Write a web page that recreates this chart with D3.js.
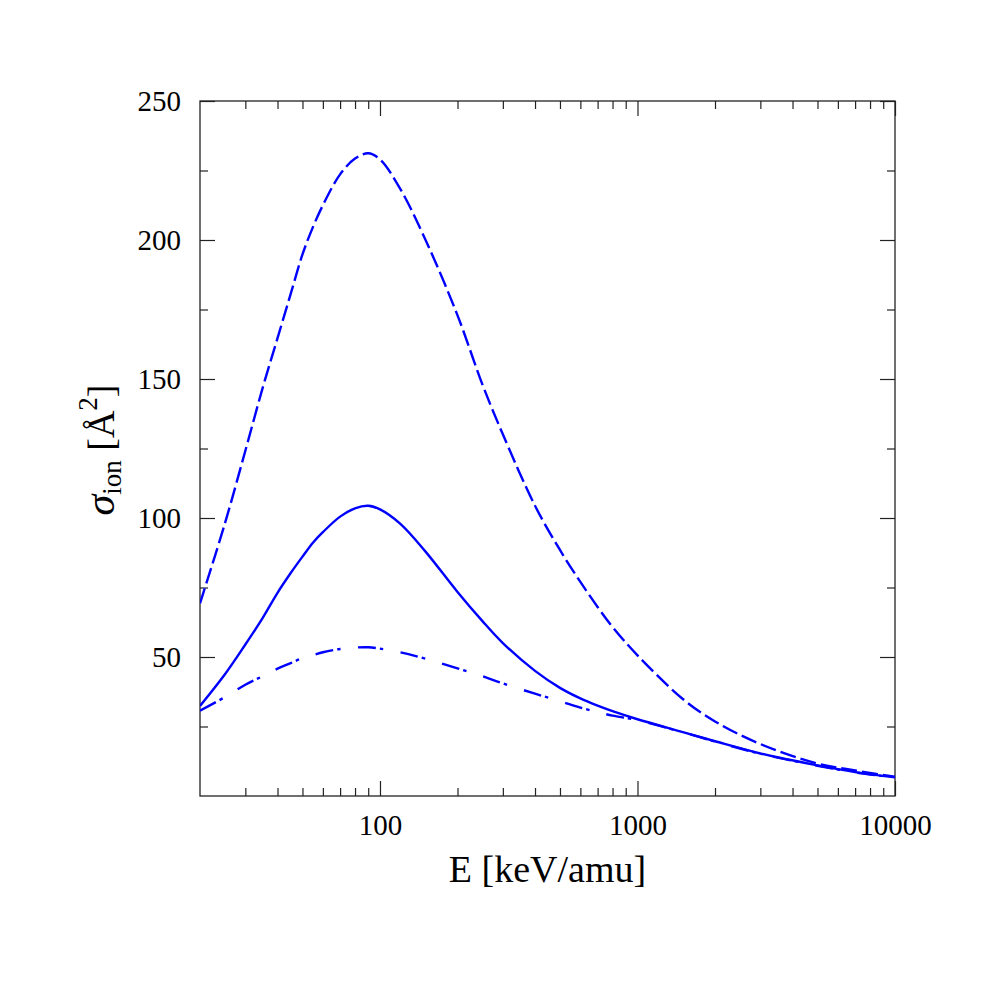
<!DOCTYPE html>
<html>
<head>
<meta charset="utf-8">
<script src="https://cdn.jsdelivr.net/npm/d3@7"></script>
<style>
  html, body { margin: 0; padding: 0; background: #fff; }
  svg { display: block; }
  text { font-family: "Liberation Serif", "DejaVu Serif", serif; fill: #000; }
</style>
</head>
<body>
<svg id="chart" width="997" height="997"></svg>
<script>
// ---- data ----
const energies = [20,25,30,35,40,45,50,55,60,70,80,90,100,120,150,200,250,300,400,500,600,700,800,1000,1500,2000,3000,5000,7000,10000];
const dashedValues = [69.3,98.1,124.2,146.7,164.7,180.6,194.8,204.8,212.5,223.6,229.3,231.2,229.0,218.3,200.2,172.9,148.0,130.1,104.4,88.5,77.0,68.0,60.8,50.6,34.9,26.8,18.7,11.7,9.2,6.9];
const solidValues = [32.4,43.8,54.5,64.0,73.1,80.2,86.1,91.2,94.9,100.5,103.5,104.4,103.1,97.9,88.0,73.4,62.9,55.0,45.0,38.9,35.1,32.5,30.5,27.6,23.0,19.7,15.3,11.0,8.6,6.7];
const dashDotValues = [30.7,35.6,40.0,43.1,45.8,47.8,49.6,50.7,51.7,52.9,53.4,53.5,53.0,51.7,49.4,45.9,43.1,40.5,36.8,34.1,31.8,30.2,28.9,27.3,22.9,19.6,15.2,10.9,8.5,6.6];

const xMajorTicks = [100, 1000, 10000];
const xMinorTicks = [30,40,50,60,70,80,90,200,300,400,500,600,700,800,900,2000,3000,4000,5000,6000,7000,8000,9000];
const yMajorTicks = [50, 100, 150, 200, 250];
const yMinorTicks = [25, 75, 125, 175, 225];

const xLabel = "E [keV/amu]";

// ---- layout ----
const svg = d3.select("#chart");
const mLeft = 200, mRight = 895, mTop = 101, mBottom = 796;

const x = d3.scaleLog().domain([20, 10000]).range([mLeft, mRight]);
const y = d3.scaleLinear().domain([0, 250]).range([mBottom, mTop]);

const axisColor = "#222";
const majorLen = 15, minorLen = 8;
const tickFont = 29;

function styleAxis(g) {
  g.select(".domain").remove();
  g.selectAll(".tick line").attr("stroke", axisColor).attr("stroke-width", 1.2);
  g.selectAll(".tick text").attr("font-family", "Liberation Serif, DejaVu Serif, serif")
    .attr("font-size", tickFont).attr("fill", "#000");
}

// bottom
svg.append("g").attr("transform", `translate(0,${mBottom})`)
  .call(d3.axisBottom(x).tickValues(xMajorTicks).tickSize(-majorLen).tickPadding(18).tickFormat(d3.format("d")))
  .call(styleAxis);
svg.append("g").attr("transform", `translate(0,${mBottom})`)
  .call(d3.axisBottom(x).tickValues(xMinorTicks).tickSize(-minorLen).tickFormat(""))
  .call(styleAxis);
// top
svg.append("g").attr("transform", `translate(0,${mTop})`)
  .call(d3.axisTop(x).tickValues(xMajorTicks).tickSize(-majorLen).tickFormat(""))
  .call(styleAxis);
svg.append("g").attr("transform", `translate(0,${mTop})`)
  .call(d3.axisTop(x).tickValues(xMinorTicks).tickSize(-minorLen).tickFormat(""))
  .call(styleAxis);
// left
svg.append("g").attr("transform", `translate(${mLeft},0)`)
  .call(d3.axisLeft(y).tickValues(yMajorTicks).tickSize(-majorLen).tickPadding(19).tickFormat(d3.format("d")))
  .call(styleAxis);
svg.append("g").attr("transform", `translate(${mLeft},0)`)
  .call(d3.axisLeft(y).tickValues(yMinorTicks).tickSize(-minorLen).tickFormat(""))
  .call(styleAxis);
// right
svg.append("g").attr("transform", `translate(${mRight},0)`)
  .call(d3.axisRight(y).tickValues(yMajorTicks).tickSize(-majorLen).tickFormat(""))
  .call(styleAxis);
svg.append("g").attr("transform", `translate(${mRight},0)`)
  .call(d3.axisRight(y).tickValues(yMinorTicks).tickSize(-minorLen).tickFormat(""))
  .call(styleAxis);

// frame
svg.append("rect")
  .attr("x", mLeft).attr("y", mTop)
  .attr("width", mRight - mLeft).attr("height", mBottom - mTop)
  .attr("fill", "none").attr("stroke", axisColor).attr("stroke-width", 1.3);

// ---- curves ----
svg.append("clipPath").attr("id", "clip")
  .append("rect").attr("x", mLeft).attr("y", mTop).attr("width", mRight - mLeft).attr("height", mBottom - mTop);

const line = d3.line()
  .x((d, i) => x(energies[i]))
  .y(d => y(d))
  .curve(d3.curveCatmullRom.alpha(0.5));

const series = [
  { values: solidValues, dash: null },
  { values: dashDotValues, dash: "18,4,3.5,17.5" },
  { values: dashedValues, dash: "16,5" }
];

const curves = svg.append("g").attr("clip-path", "url(#clip)");
series.forEach(s => {
  curves.append("path")
    .datum(s.values)
    .attr("d", line)
    .attr("fill", "none")
    .attr("stroke", "#0000ff")
    .attr("stroke-width", 2.4)
    .attr("stroke-dasharray", s.dash)
    .attr("stroke-linejoin", "round");
});

// ---- axis titles ----
svg.append("text")
  .attr("x", (mLeft + mRight) / 2)
  .attr("y", 882)
  .attr("text-anchor", "middle")
  .attr("font-size", 38)
  .text(xLabel);

const yl = svg.append("text")
  .attr("transform", "translate(114,450) rotate(-90)")
  .attr("text-anchor", "middle")
  .attr("font-size", 38);
yl.append("tspan").attr("font-style", "italic").attr("font-size", 42).text("σ");
yl.append("tspan").attr("font-size", 27).attr("dy", 7).text("ion");
yl.append("tspan").attr("dy", -7).text(" [Å");
yl.append("tspan").attr("font-size", 27).attr("dy", -17).text("2");
yl.append("tspan").attr("dy", 17).text("]");
</script>
</body>
</html>
